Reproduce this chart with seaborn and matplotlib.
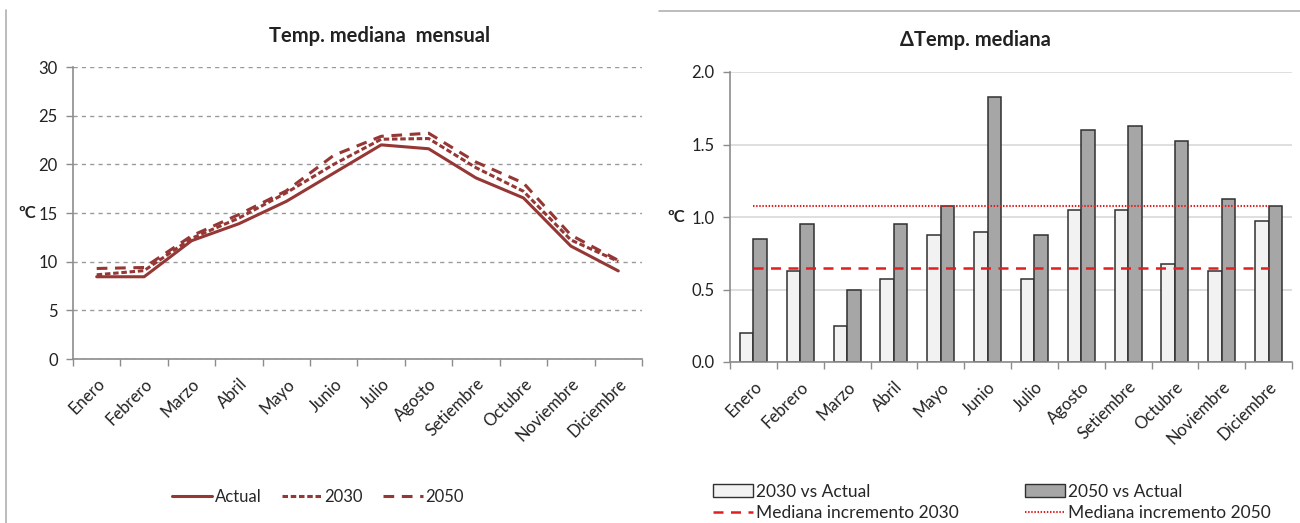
import numpy as np
import pandas as pd
import matplotlib
matplotlib.use("Agg")
import matplotlib.pyplot as plt
from matplotlib.lines import Line2D
from matplotlib.patches import Patch
import seaborn as sns

# ---------------- data ----------------
meses = ["Enero", "Febrero", "Marzo", "Abril", "Mayo", "Junio", "Julio",
         "Agosto", "Setiembre", "Octubre", "Noviembre", "Diciembre"]
temp_actual = [8.45, 8.45, 12.15, 13.9, 16.2, 19.1, 22.0, 21.6, 18.6, 16.55, 11.6, 9.05]
temp_2030 = [8.65, 9.08, 12.4, 14.48, 17.08, 20.0, 22.58, 22.65, 19.65, 17.23, 12.23, 10.03]
temp_2050 = [9.3, 9.4, 12.65, 14.85, 17.28, 20.93, 22.88, 23.2, 20.23, 18.08, 12.73, 10.13]

delta_2030 = [0.2, 0.625, 0.25, 0.575, 0.875, 0.9, 0.575, 1.05, 1.05, 0.675, 0.625, 0.975]
delta_2050 = [0.85, 0.95, 0.5, 0.95, 1.075, 1.825, 0.875, 1.6, 1.625, 1.525, 1.125, 1.075]
mediana_2030 = 0.65
mediana_2050 = 1.075

serie_labels = ["Actual", "2030", "2050"]
bar_labels = ["2030 vs Actual", "2050 vs Actual"]
med_labels = ["Mediana incremento 2030", "Mediana incremento 2050"]

# ---------------- style ----------------
sns.set_theme(style="white")
plt.rcParams["font.family"] = ["Lato", "DejaVu Sans"]
plt.rcParams["font.size"] = 12

LINE_C = "#953735"
AX_C = "#8c8c8c"
TXT_C = "#222222"
FS = 12

fig = plt.figure(figsize=(13, 5.23), dpi=100)

# ================= left chart =================
ax1 = fig.add_axes([73/1300, 1-359/523, (642-73)/1300, (359-67)/523])
x_idx = np.arange(len(meses))
df_l = pd.DataFrame({"mes": meses, "Actual": temp_actual,
                     "2030": temp_2030, "2050": temp_2050})
sns.lineplot(x=x_idx, y=df_l["Actual"], ax=ax1, color=LINE_C, lw=2.2,
             label="Actual", legend=False)
sns.lineplot(x=x_idx, y=df_l["2030"], ax=ax1, color=LINE_C, lw=2.2,
             label="2030", legend=False)
sns.lineplot(x=x_idx, y=df_l["2050"], ax=ax1, color=LINE_C, lw=2.2,
             label="2050", legend=False)
lines = ax1.get_lines()
lines[1].set_dashes([1.8, 0.9])
lines[2].set_dashes([3.5, 2.5])


def style_axis(ax):
    ax.set_xlim(-0.5, 11.5)
    ax.set_xticks(x_idx)
    ax.set_xticklabels(meses, rotation=45, ha="right", va="top",
                       rotation_mode="anchor", color=TXT_C, fontsize=FS)
    ax.set_xticks(np.arange(-0.5, 12, 1), minor=True)
    ax.tick_params(axis="x", which="major", length=0, pad=12)
    ax.tick_params(axis="x", which="minor", length=5, color=AX_C, width=1, bottom=True)
    ax.tick_params(axis="y", length=5, color=AX_C, width=1, left=True, labelsize=FS,
                   labelcolor=TXT_C, pad=6)
    ax.set_axisbelow(True)
    for s in ["top", "right"]:
        ax.spines[s].set_visible(False)
    for s in ["left", "bottom"]:
        ax.spines[s].set_color(AX_C)
        ax.spines[s].set_linewidth(1.2)
    ax.set_xlabel("")
    ax.set_ylabel("")


style_axis(ax1)
ax1.set_ylim(0, 30)
ax1.set_yticks(np.arange(0, 31, 5))
ax1.yaxis.grid(True, color="#9a9a9a", linestyle=(0, (3, 3)), lw=1)
fig.text(380/1300, 1-36/523, "Temp. mediana  mensual", fontsize=14.5,
         fontweight="bold", color=TXT_C, ha="center", va="center")
fig.text(18/1300, 1-213/523, "ºC", fontsize=FS, fontweight="bold",
         color=TXT_C, va="center", ha="left")

leg1 = [Line2D([0], [0], color=LINE_C, lw=2.2, label="Actual"),
        Line2D([0], [0], color=LINE_C, lw=2.2, dashes=[1.8, 0.9], label="2030"),
        Line2D([0], [0], color=LINE_C, lw=2.2, dashes=[3.5, 2.5], label="2050")]
fig.legend(handles=leg1, loc="center", bbox_to_anchor=(318/1300, 1-497/523),
           ncol=3, frameon=False, fontsize=FS, handlelength=2.4,
           handletextpad=0.15, columnspacing=1.2)

# ================= right chart =================
ax2 = fig.add_axes([730/1300, 1-362/523, (1292-730)/1300, (362-72)/523])
df_b = pd.DataFrame({
    "mes": meses * 2,
    "delta": delta_2030 + delta_2050,
    "serie": [bar_labels[0]] * 12 + [bar_labels[1]] * 12,
})
sns.barplot(data=df_b, x="mes", y="delta", hue="serie", ax=ax2,
            palette={bar_labels[0]: "#f2f2f2", bar_labels[1]: "#a6a6a6"},
            width=0.58, edgecolor="#303030", linewidth=1.1, legend=False,
            errorbar=None)
sns.lineplot(x=x_idx, y=[mediana_2030] * 12, ax=ax2, color="#e02020", lw=1.8,
             legend=False)
sns.lineplot(x=x_idx, y=[mediana_2050] * 12, ax=ax2, color="#e02020", lw=1.5,
             legend=False)
l2 = ax2.get_lines()
l2[0].set_dashes([4, 3])
l2[1].set_dashes([0.7, 0.8])

style_axis(ax2)
ax2.set_ylim(0, 2.0)
ax2.set_yticks(np.arange(0, 2.01, 0.5))
ax2.set_yticklabels([f"{v:.1f}" for v in np.arange(0, 2.01, 0.5)])
ax2.yaxis.grid(True, color="#dcdcdc", linestyle="-", lw=1.3)
fig.text(975/1300, 1-40/523, "ΔTemp. mediana", fontsize=14.5,
         fontweight="bold", color=TXT_C, ha="center", va="center")
fig.text(667/1300, 1-217/523, "ºC", fontsize=FS, fontweight="bold",
         color=TXT_C, va="center", ha="left")

leg2a = [Patch(facecolor="#f2f2f2", edgecolor="#303030", label=bar_labels[0]),
         Line2D([0], [0], color="#e02020", lw=1.8, dashes=[4, 3], label=med_labels[0])]
leg2b = [Patch(facecolor="#a6a6a6", edgecolor="#303030", label=bar_labels[1]),
         Line2D([0], [0], color="#e02020", lw=1.5, dashes=[0.7, 0.8], label=med_labels[1])]
fig.legend(handles=leg2a, loc="upper left", bbox_to_anchor=(697/1300, 1-468/523),
           frameon=False, fontsize=12.5, handlelength=2.3, handletextpad=0.2,
           labelspacing=0.3)
fig.legend(handles=leg2b, loc="upper left", bbox_to_anchor=(1009/1300, 1-468/523),
           frameon=False, fontsize=12.5, handlelength=2.3, handletextpad=0.2,
           labelspacing=0.3)

# frame borders
fig.add_artist(Line2D([6/1300, 6/1300], [0, 1-10/523], color="#b0b0b0", lw=1.2))
fig.add_artist(Line2D([659/1300, 1], [1-11/523, 1-11/523], color="#b0b0b0", lw=1.2))

fig.savefig("out.png", dpi=100)
